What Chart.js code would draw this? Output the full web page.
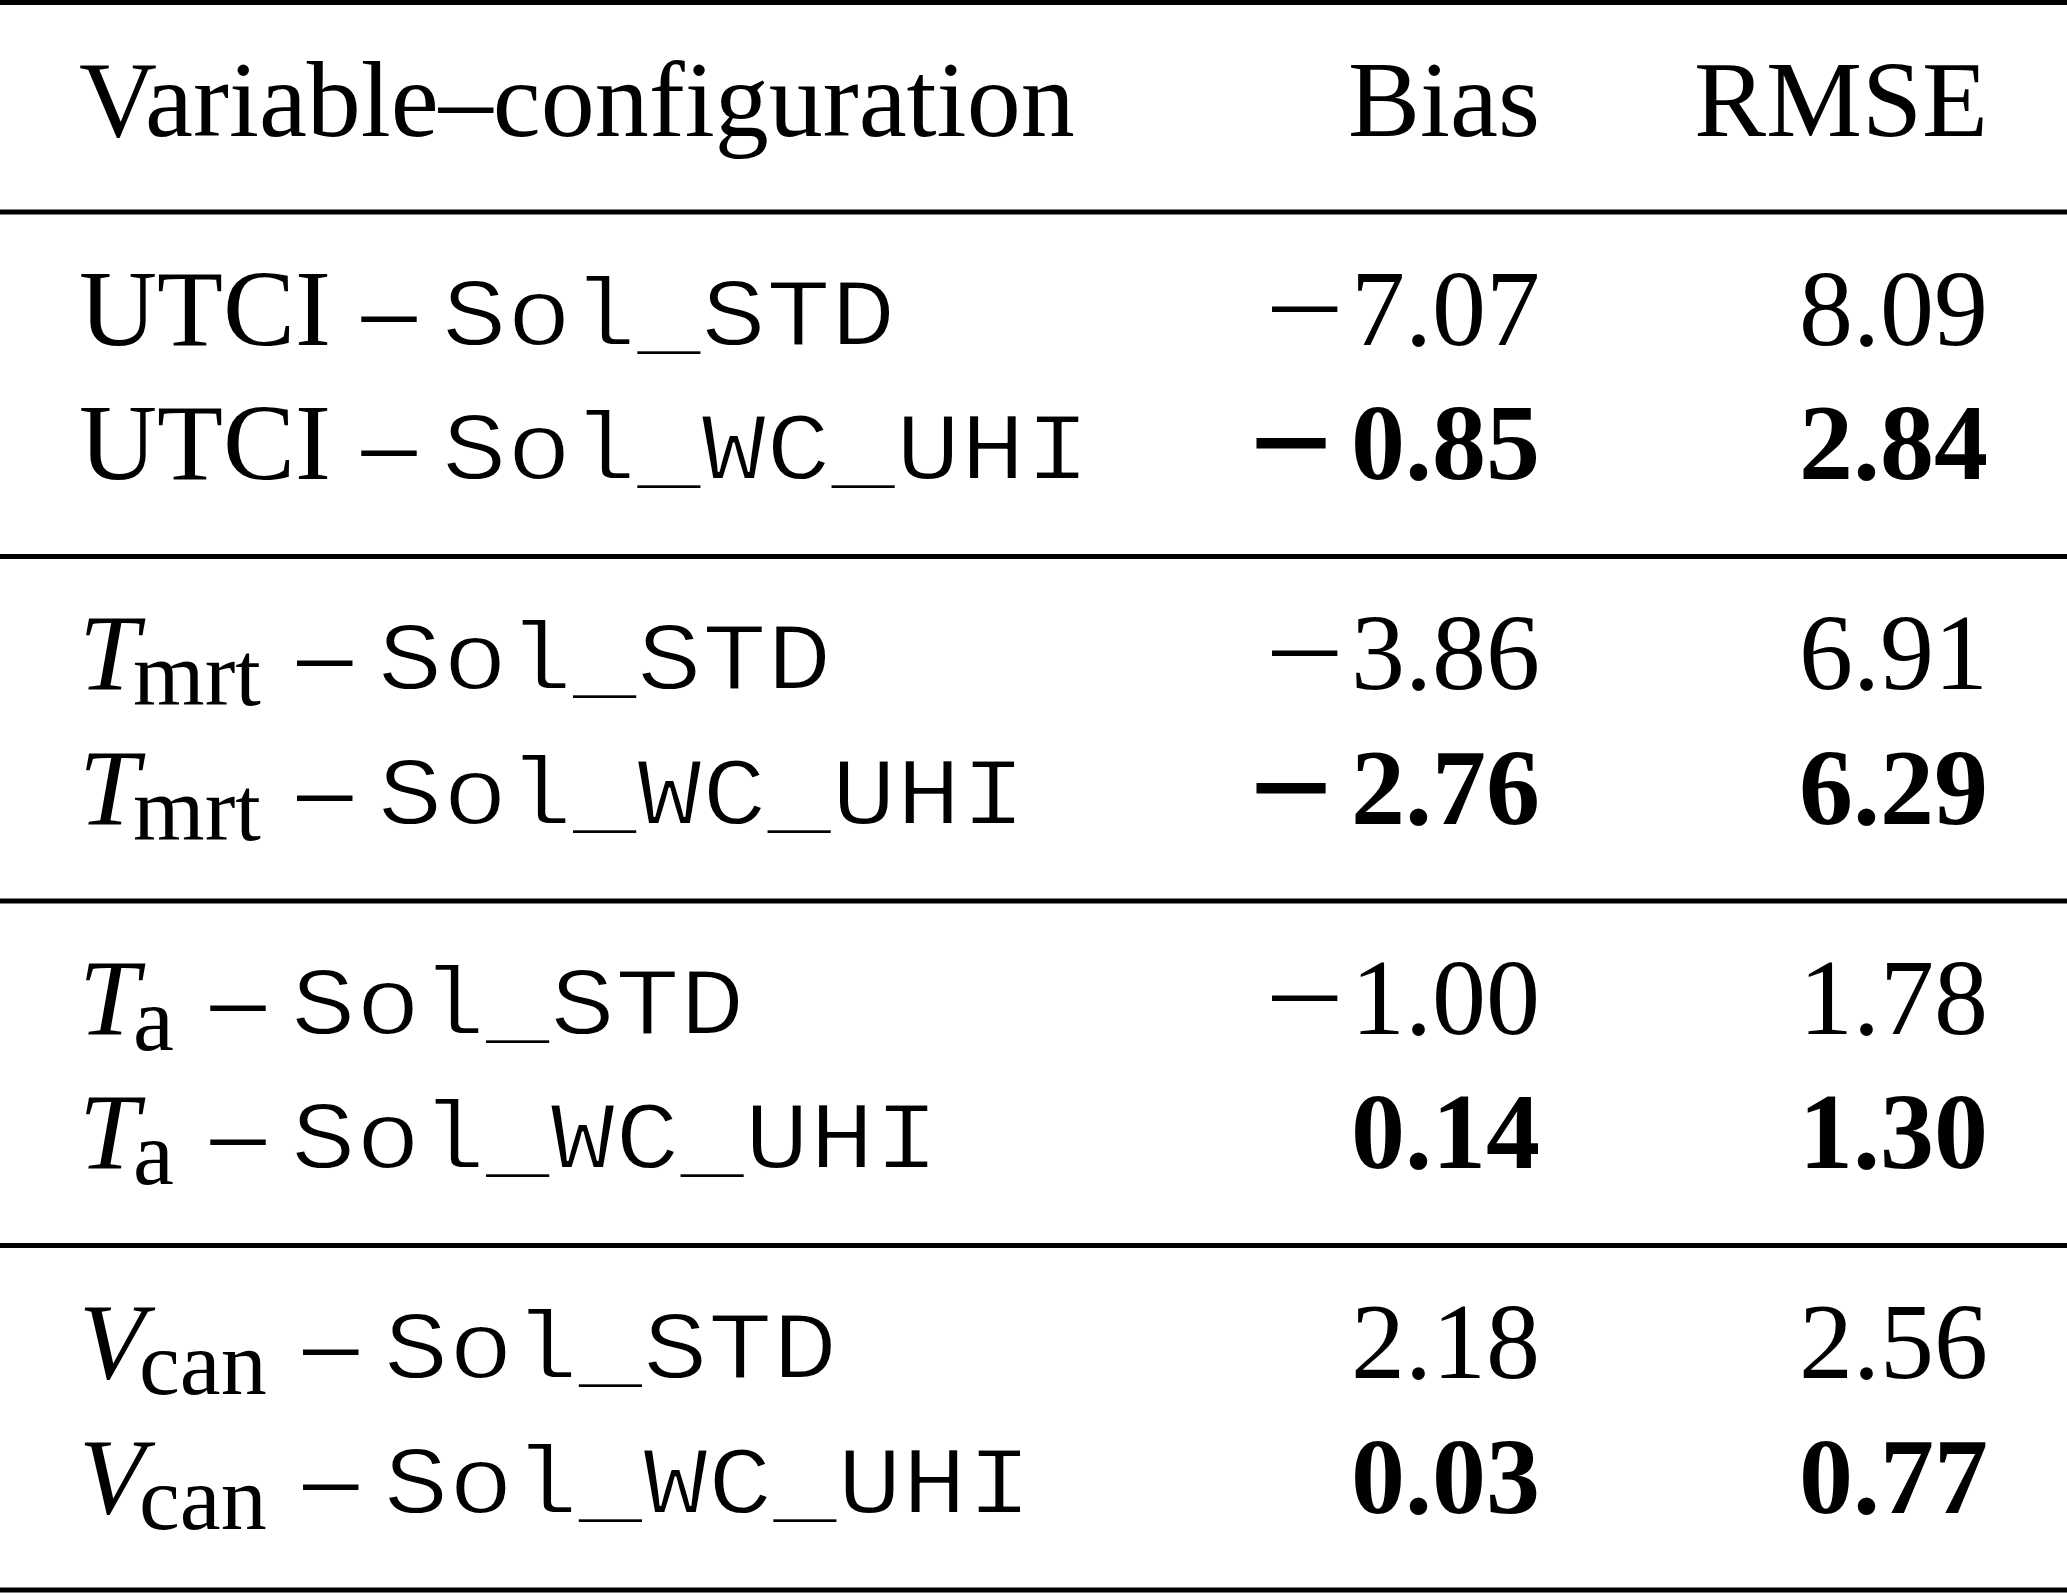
<!DOCTYPE html>
<html>
<head>
<meta charset="utf-8">
<script src="https://cdn.jsdelivr.net/npm/chart.js@4"></script>
<style>
html,body{margin:0;padding:0;background:#fff;overflow:hidden}
canvas{display:block}
</style>
</head>
<body>
<canvas id="c" width="2067" height="1593"></canvas>
<script>
// ---- data ----
const columnHeaders = ['Variable\u2013configuration', 'Bias', 'RMSE'];
const variableMain = ['UTCI', 'T', 'T', 'V'];
const variableSub = ['', 'mrt', 'a', 'can'];
const variableItalic = [false, true, true, true];
const configurations = ['Sol_STD', 'Sol_WC_UHI'];
const biasValues = [[-7.07, -0.85], [-3.86, -2.76], [-1.00, 0.14], [2.18, 0.03]];
const rmseValues = [[8.09, 2.84], [6.91, 6.29], [1.78, 1.30], [2.56, 0.77]];
const boldConfiguration = 'Sol_WC_UHI';

// ---- layout / style ----
const W = 2067, H = 1593;
const SERIF = '"Liberation Serif", "Times New Roman", serif';
const MONO = '"Liberation Mono", "Courier New", monospace';
const FS = 108, SUB_FS = 92, MONO_FS = 96, MONO_XSCALE = 108 / 96;
const LEFT_X = 79, BIAS_X = 1540, RMSE_X = 1988;
const TOP_RULE = 2.5, FIRST_RULE = 212, GROUP_PITCH = 344.5;
const HEADER_BASE = 136, FIRST_ROW_OFF = 132.5, ROW_PITCH = 134.5, RULE_W = 5;

function fmt(v) { return Math.abs(v).toFixed(2); }

const tablePlugin = {
  id: 'tablePlugin',
  beforeDraw(chart) {
    const ctx = chart.ctx;
    ctx.save();
    ctx.fillStyle = '#fff';
    ctx.fillRect(0, 0, chart.width, chart.height);
    ctx.restore();
  },
  afterDraw(chart) {
    const ctx = chart.ctx;
    const xs = chart.scales.x, ys = chart.scales.y;
    const px = v => xs.getPixelForValue(v);
    const py = v => ys.getPixelForValue(v);
    ctx.save();
    ctx.fillStyle = '#000';
    ctx.textBaseline = 'alphabetic';

    // horizontal rules
    const rules = [TOP_RULE];
    for (let g = 0; g <= variableMain.length; g++) rules.push(FIRST_RULE + g * GROUP_PITCH);
    rules.forEach(r => {
      ctx.fillRect(px(0), py(r) - RULE_W / 2, px(W) - px(0), RULE_W);
    });

    // header row
    ctx.font = FS + 'px ' + SERIF;
    ctx.textAlign = 'left';
    ctx.fillText(columnHeaders[0], px(LEFT_X), py(HEADER_BASE));
    ctx.textAlign = 'right';
    ctx.fillText(columnHeaders[1], px(BIAS_X), py(HEADER_BASE));
    ctx.fillText(columnHeaders[2], px(RMSE_X), py(HEADER_BASE));

    function drawMinus(xRight, yBase, bold) {
      ctx.save();
      ctx.font = (bold ? 'bold ' : '') + FS + 'px ' + SERIF;
      ctx.textAlign = 'right';
      ctx.translate(xRight, yBase);
      ctx.scale(1.3, 1);
      ctx.fillText('\u2212', 0, 0);
      if (bold) {
        ctx.strokeStyle = '#000';
        ctx.lineWidth = 3;
        ctx.strokeText('\u2212', 0, 0);
      }
      ctx.restore();
    }

    function drawNumber(v, xRight, yBase, bold) {
      ctx.font = (bold ? 'bold ' : '') + FS + 'px ' + SERIF;
      ctx.textAlign = 'right';
      const s = fmt(v);
      ctx.fillText(s, xRight, yBase);
      if (v < 0) {
        const w = ctx.measureText(s).width;
        drawMinus(xRight - w - (bold ? 20 : 7), yBase, bold);
      }
    }

    function drawMono(text, x, y) {
      ctx.save();
      ctx.translate(x, y);
      ctx.scale(MONO_XSCALE, 1);
      ctx.font = MONO_FS + 'px ' + MONO;
      ctx.textAlign = 'left';
      ctx.fillText(text, 0, 0);
      ctx.strokeStyle = '#fff';
      ctx.lineJoin = 'round';
      ctx.lineWidth = 1.8;
      ctx.strokeText(text, 0, 0);
      ctx.restore();
    }

    variableMain.forEach((main, g) => {
      configurations.forEach((cfg, r) => {
        const yv = FIRST_RULE + g * GROUP_PITCH + FIRST_ROW_OFF + r * ROW_PITCH;
        const y = py(yv);
        let x = px(LEFT_X);
        ctx.textAlign = 'left';
        ctx.font = (variableItalic[g] ? 'italic ' : '') + FS + 'px ' + SERIF;
        ctx.fillText(main, x, y);
        x += ctx.measureText(main).width;
        const sub = variableSub[g];
        if (sub) {
          x -= 6;
          ctx.font = SUB_FS + 'px ' + SERIF;
          ctx.fillText(sub, x, y + 16);
          x += ctx.measureText(sub).width;
          x += 37;
        } else {
          x += 31;
        }
        ctx.font = FS + 'px ' + SERIF;
        ctx.fillText('\u2013', x, y);
        x += 80;
        drawMono(cfg, x, y);

        const bold = cfg === boldConfiguration;
        drawNumber(biasValues[g][r], px(BIAS_X), y, bold);
        drawNumber(rmseValues[g][r], px(RMSE_X), y, bold);
      });
    });
    ctx.restore();
  }
};

new Chart(document.getElementById('c'), {
  type: 'scatter',
  data: { datasets: [{ data: [], pointRadius: 0 }] },
  options: {
    responsive: false,
    devicePixelRatio: 1,
    animation: false,
    layout: { padding: 0 },
    plugins: { legend: { display: false }, tooltip: { enabled: false } },
    scales: {
      x: { type: 'linear', min: 0, max: W, display: false },
      y: { type: 'linear', min: 0, max: H, reverse: true, display: false }
    }
  },
  plugins: [tablePlugin]
});
</script>
</body>
</html>
